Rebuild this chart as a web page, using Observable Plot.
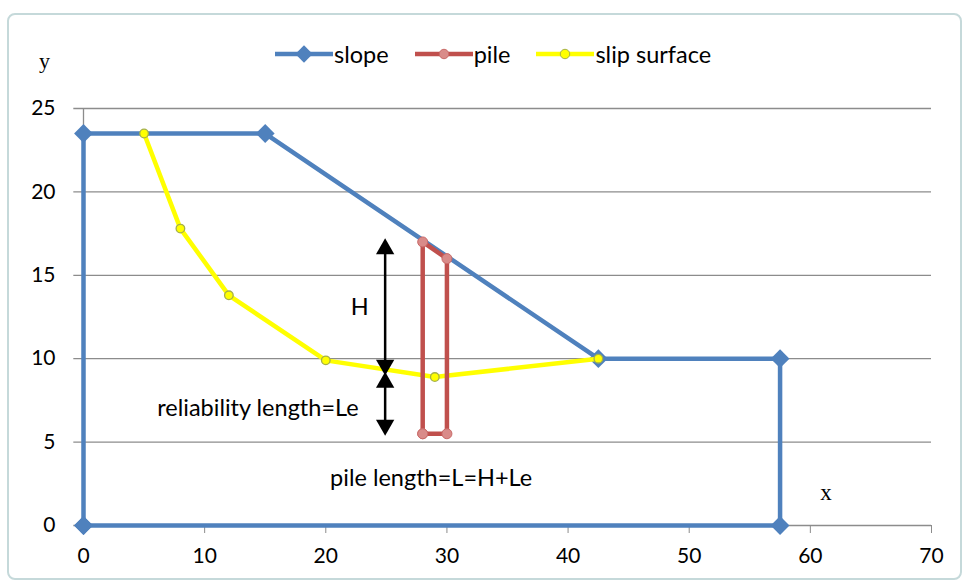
<!DOCTYPE html>
<html>
<head>
<meta charset="utf-8">
<script src="https://cdn.jsdelivr.net/npm/d3@7"></script>
<script src="https://cdn.jsdelivr.net/npm/@observablehq/plot@0.6"></script>
<style>
  html, body { margin: 0; padding: 0; background: #fff; }
  #wrap { position: relative; width: 967px; height: 588px; overflow: hidden; font-family: Lato, "Open Sans", sans-serif; }
  #frame { position: absolute; left: 7px; top: 13px; width: 955px; height: 567px; border: 2px solid #c5d9da; border-radius: 8px; box-sizing: border-box; }
  #legend { position: absolute; top: 40px; left: 275px; display: flex; align-items: center; font-size: 23.5px; color: #000; }
  #legend .item { display: flex; align-items: center; margin-right: 26px; }
  #legend svg { margin-right: 1px; }
  #ylab { position: absolute; left: 39px; top: 48px; font-family: "Liberation Serif", "DejaVu Serif", serif; font-size: 22px; }
  #chart { position: absolute; left: 0; top: 0; }
</style>
</head>
<body>
<div id="wrap">
  <div id="frame"></div>
  <div id="chart"></div>
  <div id="legend"></div>
  <div id="ylab">y</div>
</div>
<script>
// slope outline
const slopeX = [0, 0, 15, 42.5, 57.5, 57.5, 0];
const slopeY = [0, 23.5, 23.5, 10, 10, 0, 0];
// pile outline
const pileX = [28, 28, 30, 30, 28];
const pileY = [5.5, 17, 16, 5.5, 5.5];
// slip surface
const slipX = [5, 8, 12, 20, 29, 42.5];
const slipY = [23.5, 17.8, 13.8, 9.9, 8.9, 10];
// annotation arrows (x, yTop, yBottom)
const arrowX = [24.9, 24.9];
const arrowTop = [17.0, 9.0];
const arrowBottom = [9.2, 5.6];
// labels
const labelText = ["H", "reliability length=Le", "pile length=L=H+Le"];
const labelX = [22.8, 14.4, 28.7];
const labelY = [13.1, 7.0, 2.8];
const xTicks = [0, 10, 20, 30, 40, 50, 60, 70];
const yTicks = [0, 5, 10, 15, 20, 25];

const BLUE = "#4f81bd", RED = "#c0504d", YELLOW = "#ffff00";

const slope = slopeX.map((x, i) => ({x, y: slopeY[i]}));
const pile = pileX.map((x, i) => ({x, y: pileY[i]}));
const slip = slipX.map((x, i) => ({x, y: slipY[i]}));
const arrows = arrowX.map((x, i) => ({x, y1: arrowTop[i], y2: arrowBottom[i]}));
const labels = labelText.map((t, i) => ({t, x: labelX[i], y: labelY[i]}));

const plot = Plot.plot({
  width: 967,
  height: 588,
  marginLeft: 83,
  marginRight: 36,
  marginTop: 108,
  marginBottom: 63,
  style: {background: "transparent", fontFamily: "Lato, 'Open Sans', sans-serif", fontSize: "21px", color: "#000"},
  x: {domain: [0, 70], ticks: xTicks, label: null},
  y: {domain: [0, 25], ticks: yTicks, label: null},
  marks: [
    Plot.ruleY(yTicks, {stroke: "#8c8c8c", strokeWidth: 1.3, x1: -0.8, x2: 70}),
    Plot.ruleX([0], {stroke: "#8c8c8c", strokeWidth: 1.3}),
    Plot.axisX({ticks: xTicks, tickSize: 8, stroke: "#8c8c8c", tickPadding: 15, fontSize: 21, label: null}),
    Plot.axisY({ticks: yTicks, tickSize: 0, tickPadding: 28, fontSize: 21, label: null}),
    // slope
    Plot.line(slope, {x: "x", y: "y", stroke: BLUE, strokeWidth: 4.5, strokeLinejoin: "miter"}),
    Plot.dot(slope, {x: "x", y: "y", symbol: "square", rotate: 45, r: 7.5, fill: BLUE, stroke: "none"}),
    // slip surface
    Plot.line(slip, {x: "x", y: "y", stroke: YELLOW, strokeWidth: 4.5}),
    Plot.dot(slip, {x: "x", y: "y", r: 4.3, fill: YELLOW, stroke: "#a5b04a", strokeWidth: 1.3}),
    // pile
    Plot.line(pile, {x: "x", y: "y", stroke: RED, strokeWidth: 4.5}),
    Plot.dot(pile, {x: "x", y: "y", r: 5, fill: "#d98b89", stroke: "#c96a68", strokeWidth: 1}),
    // arrows
    Plot.link(arrows, {x1: "x", x2: "x", y1: "y1", y2: "y2", stroke: "#000", strokeWidth: 2.5}),
    Plot.dot(arrows, {x: "x", y: "y1", symbol: "triangle", r: 6.8, fill: "#000", dy: 7}),
    Plot.dot(arrows, {x: "x", y: "y2", symbol: "triangle", r: 6.8, fill: "#000", dy: -7, rotate: 180}),
    // labels
    Plot.text(labels, {x: "x", y: "y", text: "t", fontSize: 23.5, fill: "#000"}),
    Plot.text(["x"], {x: 61.3, y: 2.0, text: d => d, fontSize: 23, fontFamily: "Liberation Serif, DejaVu Serif, serif", fill: "#000"})
  ]
});
document.getElementById("chart").appendChild(plot);

// legend
const legendItems = [
  {name: "slope", color: BLUE, marker: "diamond", fill: BLUE, stroke: "none"},
  {name: "pile", color: RED, marker: "circle", fill: "#d98b89", stroke: "#c96a68"},
  {name: "slip surface", color: YELLOW, marker: "circle", fill: YELLOW, stroke: "#a5b04a"}
];
const lg = document.getElementById("legend");
legendItems.forEach(it => {
  const d = document.createElement("div");
  d.className = "item";
  const ns = "http://www.w3.org/2000/svg";
  const s = document.createElementNS(ns, "svg");
  s.setAttribute("width", 58); s.setAttribute("height", 26);
  const l = document.createElementNS(ns, "line");
  l.setAttribute("x1", 0); l.setAttribute("x2", 58); l.setAttribute("y1", 13); l.setAttribute("y2", 13);
  l.setAttribute("stroke", it.color); l.setAttribute("stroke-width", 4.5);
  s.appendChild(l);
  const p = document.createElementNS(ns, "path");
  if (it.marker === "diamond") {
    p.setAttribute("d", d3.symbol(d3.symbolSquare, 150)());
    p.setAttribute("transform", "translate(29,13) rotate(45)");
  } else {
    p.setAttribute("d", d3.symbol(d3.symbolCircle, 70)());
    p.setAttribute("transform", "translate(29,13)");
  }
  p.setAttribute("fill", it.fill); p.setAttribute("stroke", it.stroke);
  s.appendChild(p);
  d.appendChild(s);
  const t = document.createElement("span");
  t.textContent = it.name;
  d.appendChild(t);
  lg.appendChild(d);
});
</script>
</body>
</html>
